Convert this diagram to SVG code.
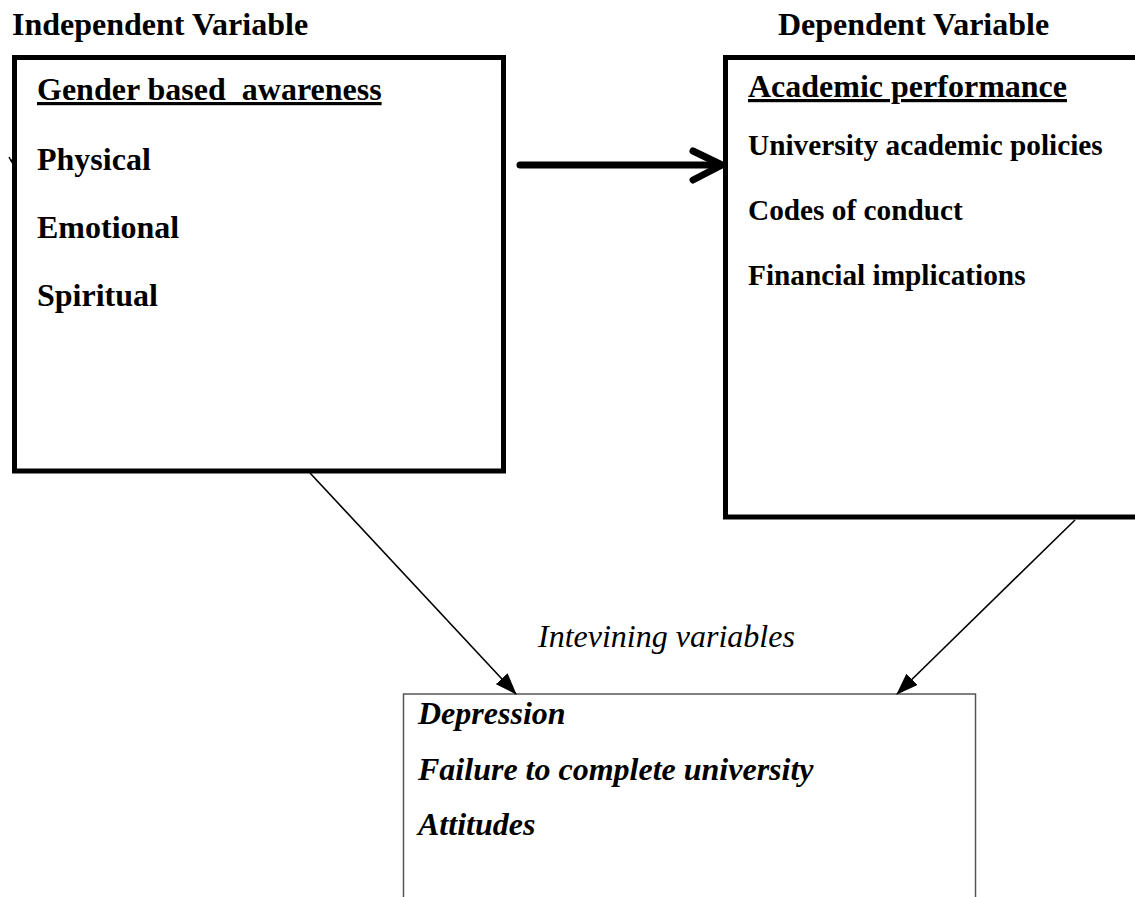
<svg xmlns="http://www.w3.org/2000/svg" width="1135" height="897" viewBox="0 0 1135 897">
  <style>
    .hdr { font-family: "Liberation Serif", "Times New Roman", serif; font-weight: bold; font-size: 32px; fill: #000; }
    .item { font-family: "Liberation Serif", "Times New Roman", serif; font-weight: bold; font-size: 32px; fill: #000; }
    .item-sm { font-family: "Liberation Serif", "Times New Roman", serif; font-weight: bold; font-size: 29.3px; fill: #000; }
    .bi { font-family: "Liberation Serif", "Times New Roman", serif; font-weight: bold; font-style: italic; font-size: 32px; fill: #000; }
    .it { font-family: "Liberation Serif", "Times New Roman", serif; font-style: italic; font-size: 32px; fill: #000; }
    .u { text-decoration: underline; }
    .thick { fill: #fff; stroke: #000; stroke-width: 5; }
    .thin { fill: #fff; stroke: #555; stroke-width: 1.5; }
    .conn { stroke: #000; stroke-width: 1.6; fill: none; }
    .big { stroke: #000; stroke-width: 7; fill: none; stroke-linecap: round; stroke-linejoin: round; }
  </style>
  <defs>
    <marker id="ahl" viewBox="0 0 22 16" refX="21" refY="8" markerWidth="22" markerHeight="16" orient="auto" markerUnits="userSpaceOnUse">
      <path d="M0,0 L22,8 L0,16 Z" fill="#000"/>
    </marker>
  </defs>

  <text class="hdr" x="12" y="35">Independent Variable</text>
  <text class="hdr" x="778" y="35">Dependent Variable</text>

  <g id="independent">
    <rect class="thick" x="14.5" y="57.5" width="489" height="413.5"/>
    <text class="item u" x="37" y="100" xml:space="preserve">Gender based  awareness</text>
    <text class="item" x="37" y="170">Physical</text>
    <text class="item" x="37" y="238">Emotional</text>
    <text class="item" x="37" y="306">Spiritual</text>
  </g>

  <g id="dependent">
    <rect class="thick" x="725.5" y="57.5" width="420" height="459.5"/>
    <text class="item u" x="748" y="97">Academic performance</text>
    <text class="item-sm" x="748" y="155">University academic policies</text>
    <text class="item-sm" x="748" y="220">Codes of conduct</text>
    <text class="item-sm" x="748" y="285">Financial implications</text>
  </g>

  <g id="intervening">
    <rect class="thin" x="403.5" y="694" width="572" height="220"/>
    <text class="bi" x="418" y="724">Depression</text>
    <text class="bi" x="418" y="780">Failure to complete university</text>
    <text class="bi" x="418" y="835">Attitudes</text>
  </g>

  <text class="it" x="538" y="647">Intevining variables</text>

  <g id="connectors">
    <path class="big" d="M520,165 L720,165"/>
    <path class="big" d="M693,151 L722,165 L693,180"/>
    <line class="conn" x1="310" y1="473" x2="516" y2="694" marker-end="url(#ahl)"/>
    <line class="conn" x1="1075" y1="520" x2="897" y2="694" marker-end="url(#ahl)"/>
    <path d="M9,157 L11.5,161.5 L13,158" stroke="#000" stroke-width="1.5" fill="none"/>
  </g>
</svg>
